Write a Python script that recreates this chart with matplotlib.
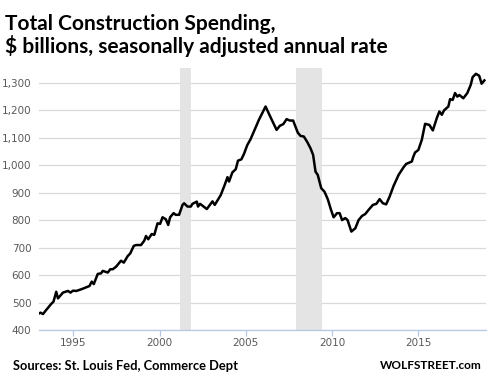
import matplotlib.pyplot as plt
from matplotlib.ticker import FuncFormatter

# decimal years and values ($ billions, SAAR)
years = [1993.00, 1993.09, 1993.23, 1993.42, 1993.71, 1993.84, 1994.00, 1994.10, 1994.39, 1994.68,
         1994.83, 1994.97, 1995.16, 1995.45, 1995.93, 1996.06, 1996.18, 1996.41, 1996.60, 1996.70,
         1996.99, 1997.14, 1997.28, 1997.47, 1997.76, 1997.92, 1998.15, 1998.30, 1998.50, 1998.63,
         1998.92, 1999.11, 1999.21, 1999.34, 1999.54, 1999.69, 1999.88, 2000.03, 2000.17, 2000.36,
         2000.50, 2000.61, 2000.81, 2000.94, 2001.13, 2001.33, 2001.42, 2001.62, 2001.81, 2001.91,
         2002.16, 2002.23, 2002.35, 2002.74, 2003.07, 2003.20, 2003.55, 2003.78, 2003.94, 2004.03,
         2004.22, 2004.42, 2004.55, 2004.75, 2004.90, 2005.09, 2005.28, 2005.47, 2005.76, 2006.15,
         2006.44, 2006.79, 2006.98, 2007.18, 2007.37, 2007.56, 2007.75, 2008.02, 2008.18, 2008.37,
         2008.56, 2008.76, 2008.91, 2009.05, 2009.18, 2009.38, 2009.57, 2009.76, 2009.95, 2010.10,
         2010.30, 2010.45, 2010.59, 2010.78, 2010.91, 2011.13, 2011.36, 2011.55, 2011.75, 2011.94,
         2012.13, 2012.38, 2012.58, 2012.77, 2012.96, 2013.15, 2013.35, 2013.58, 2013.87, 2014.16,
         2014.31, 2014.64, 2014.73, 2014.83, 2015.02, 2015.22, 2015.41, 2015.66, 2015.86, 2016.09,
         2016.24, 2016.38, 2016.51, 2016.76, 2016.86, 2017.01, 2017.15, 2017.28, 2017.40, 2017.63,
         2017.86, 2018.06, 2018.17, 2018.36, 2018.55, 2018.69, 2018.85]
spending = [460, 463, 458, 473, 495, 503, 539, 515, 536, 542,
            536, 543, 542, 548, 560, 576, 567, 604, 606, 615,
            609, 621, 621, 630, 652, 645, 669, 679, 706, 709,
            709, 725, 742, 730, 749, 746, 788, 786, 810, 803,
            782, 810, 825, 819, 819, 855, 861, 849, 849, 859,
            867, 849, 859, 840, 868, 855, 891, 928, 956, 940,
            973, 985, 1016, 1021, 1041, 1073, 1094, 1122, 1164, 1213,
            1174, 1128, 1143, 1149, 1167, 1162, 1162, 1118, 1106, 1104,
            1085, 1061, 1037, 976, 964, 916, 903, 876, 837, 810,
            825, 825, 800, 807, 800, 758, 770, 800, 815, 822,
            837, 855, 859, 876, 861, 857, 885, 924, 964, 992,
            1004, 1013, 1031, 1046, 1055, 1092, 1150, 1146, 1126, 1171,
            1195, 1183, 1199, 1213, 1240, 1237, 1262, 1249, 1255, 1243,
            1262, 1292, 1320, 1332, 1325, 1296, 1308]

# recessions (Mar-Nov 2001, Dec 2007-Jun 2009)
rec_start = [2001.17, 2007.92]
rec_end = [2001.83, 2009.42]

xticks = [1995, 2000, 2005, 2010, 2015]
yticks = [400, 500, 600, 700, 800, 900, 1000, 1100, 1200, 1300]

fig = plt.figure(figsize=(4.9, 3.77), dpi=100)
ax = fig.add_axes([0.0796, 0.1247, 0.9124, 0.6941])

for s, e in zip(rec_start, rec_end):
    ax.axvspan(s, e, color="#e4e4e4", lw=0, zorder=1)

ax.plot(years, spending, color="black", lw=1.8, zorder=3)

ax.set_xlim(1993.0, 2018.95)
ax.set_ylim(400, 1352)
ax.set_xticks(xticks)
ax.set_yticks(yticks)
ax.yaxis.set_major_formatter(FuncFormatter(lambda v, p: f"{int(v):,}"))

ax.grid(axis="y", color="#d9d9d9", lw=0.9, zorder=0)
ax.set_axisbelow(True)
for side in ["top", "right", "left"]:
    ax.spines[side].set_visible(False)
ax.spines["bottom"].set_color("#b4c7e7")
ax.spines["bottom"].set_linewidth(0.9)
ax.tick_params(axis="x", colors="#b4c7e7", length=4, width=0.9, labelcolor="#595959",
               labelsize=7.5, pad=1.5)
ax.tick_params(axis="y", length=0, labelcolor="#595959", labelsize=7.5, pad=5.5)

fig.text(0.01, 0.905, "Total Construction Spending,\n$ billions, seasonally adjusted annual rate",
         fontsize=15, fontweight="bold", family="Lato", va="center", ha="left",
         linespacing=1.05)
fig.text(0.027, 0.03, "Sources: St. Louis Fed, Commerce Dept", fontsize=9.3, fontweight="bold",
         family="Lato", va="center", ha="left")
fig.text(0.982, 0.03, "WOLFSTREET.com", fontsize=8.5, fontweight="bold",
         family="Lato", va="center", ha="right")

fig.savefig("out.png", dpi=100)
